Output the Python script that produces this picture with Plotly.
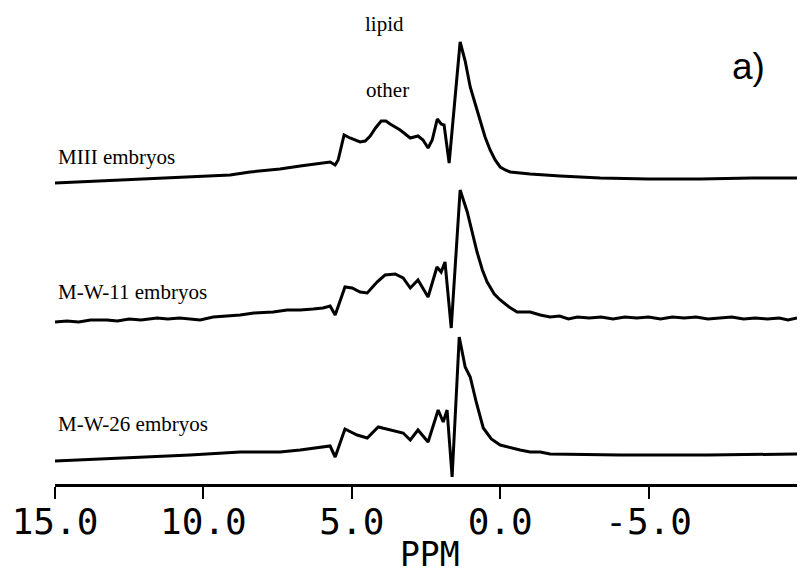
import plotly.graph_objects as go

# ---------------- data ----------------
# chemical shift (ppm) and intensity (arbitrary units above each trace's baseline)
ppm_miii = [15.0, 13.48, 12.14, 10.45, 9.10, 8.43, 7.42, 6.74, 6.07, 5.73, 5.56, 5.46, 5.26,
            5.06, 4.72, 4.55, 4.38, 4.2, 4.01, 3.85, 3.71, 3.37, 3.03, 2.77, 2.60, 2.43, 2.29,
            2.12, 1.99, 1.89, 1.72, 1.35, 1.18, 1.01, 0.84, 0.68, 0.51, 0.34, 0.17, 0.00,
            -0.17, -0.34, -0.67, -1.01, -2.02, -3.37, -5.0, -6.74, -8.5, -10.0]
int_miii = [0, 2, 4, 6, 8, 11, 14, 17, 20, 21, 18, 23, 48,
            45, 41, 42, 47, 55, 62, 62, 59, 53, 45, 47, 43, 35, 43,
            64, 59, 58, 20, 141, 122, 96, 79, 63, 46, 33, 23, 16,
            13, 11, 10, 9, 7, 5, 4, 4, 5, 5]

ppm_mw11 = [15.0, 14.6, 14.2, 13.8, 13.25, 12.9, 12.5, 12.1, 11.56, 11.2, 10.8, 10.11, 9.67,
            9.2, 8.76, 8.3, 7.65, 7.18, 6.74, 6.3, 5.97, 5.73, 5.56, 5.23, 4.99, 4.72,
            4.48, 4.15, 3.88, 3.54, 3.27, 3.03, 2.77, 2.43, 2.13, 1.99, 1.86, 1.65,
            1.35, 1.11, 0.95, 0.78, 0.6, 0.44, 0.2, 0.00, -0.3, -0.57, -1.01, -1.35, -1.68,
            -2.0, -2.3, -2.6, -3.0, -3.4, -3.8, -4.2, -4.6, -5.0, -5.4, -5.8, -6.2, -6.6,
            -7.0, -7.4, -7.8, -8.2, -8.6, -9.0, -9.4, -9.7, -10.0]
int_mw11 = [0, 1, 0, 2, 2, 1, 3, 2, 4, 3, 4, 2, 5,
            6, 7, 9, 10, 12, 12, 13, 14, 16, 7, 35, 34, 30,
            29, 40, 47, 48, 44, 34, 42, 25, 55, 50, 60, -6,
            132, 110, 90, 70, 52, 40, 28, 22, 15, 10, 10, 7, 5,
            6, 3, 5, 4, 5, 3, 5, 4, 5, 3, 5, 4, 5,
            3, 4, 5, 3, 4, 3, 4, 2, 4]

ppm_mw26 = [15.0, 12.71, 10.45, 8.76, 7.42, 6.74, 6.17, 5.73, 5.56, 5.23, 4.82, 4.48,
            4.11, 3.71, 3.27, 3.03, 2.77, 2.43, 2.09, 1.92, 1.79, 1.62, 1.38, 1.18,
            1.01, 0.8, 0.57, 0.3, 0.00, -0.67, -1.01, -1.35, -1.68, -4.04, -7.0, -10.0]
int_mw26 = [0, 3, 6, 9, 9, 11, 13, 15, 4, 32, 26, 23,
            34, 31, 28, 21, 31, 19, 51, 39, 51, -16, 124, 94,
            84, 58, 33, 22, 16, 11, 9, 9, 7, 6, 6, 7]

series_names = ["MIII embryos", "M-W-11 embryos", "M-W-26 embryos"]
tick_vals = [15, 10, 5, 0, -5]
tick_text = ["15.0", "10.0", "5.0", "0.0", "-5.0"]

# ---------------- layout constants ----------------
offsets = [301, 162, 23]          # vertical stacking of the three spectra
label_y = [327, 192, 60]
W, H = 807, 574
PLOT_H = 484

fig = go.Figure()
for xs, ys, off in [(ppm_miii, int_miii, offsets[0]),
                    (ppm_mw11, int_mw11, offsets[1]),
                    (ppm_mw26, int_mw26, offsets[2])]:
    fig.add_trace(go.Scatter(
        x=xs, y=[v + off for v in ys], mode="lines",
        line=dict(color="black", width=3, shape="linear"),
        showlegend=False, hoverinfo="skip", cliponaxis=False))

serif = "Liberation Serif, Times New Roman, serif"
for name, yy in zip(series_names, label_y):
    fig.add_annotation(x=15.0, y=yy, text=name, showarrow=False,
                       xanchor="left", yanchor="middle", xshift=1,
                       font=dict(family=serif, size=21, color="black"))

fig.add_annotation(x=3.91, y=460, text="lipid", showarrow=False,
                   xanchor="center", yanchor="middle",
                   font=dict(family=serif, size=21, color="black"))
fig.add_annotation(x=3.8, y=394, text="other", showarrow=False,
                   xanchor="center", yanchor="middle",
                   font=dict(family=serif, size=21, color="black"))
fig.add_annotation(x=-8.35, y=418, text="a)", showarrow=False,
                   xanchor="center", yanchor="middle",
                   font=dict(family="Liberation Sans, Arial, sans-serif", size=37, color="black"))
fig.add_annotation(x=2.36, y=-70 / PLOT_H, yref="paper", text="PPM", showarrow=False,
                   xanchor="center", yanchor="middle",
                   font=dict(family="DejaVu Sans Mono, monospace", size=33, color="black"))

fig.update_layout(
    width=W, height=H,
    margin=dict(l=55, r=10, t=0, b=H - PLOT_H),
    paper_bgcolor="white", plot_bgcolor="white",
    xaxis=dict(range=[15, -10], tickvals=tick_vals, ticktext=tick_text,
               ticks="outside", ticklen=12, tickwidth=2, tickcolor="black",
               ticklabelstandoff=-8,
               showline=True, linecolor="black", linewidth=3,
               showgrid=False, zeroline=False,
               tickfont=dict(family="DejaVu Sans Mono, monospace", size=36, color="black")),
    yaxis=dict(range=[0, PLOT_H], visible=False, showgrid=False, zeroline=False),
)

fig.write_html("out.html")
